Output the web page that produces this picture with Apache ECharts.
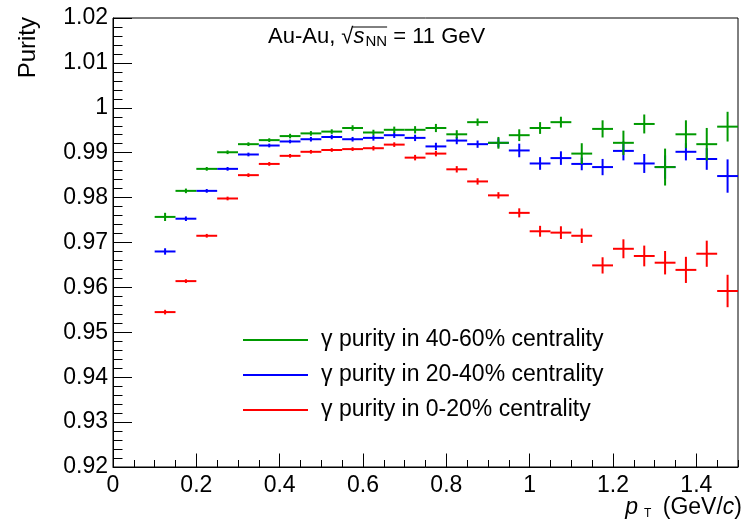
<!DOCTYPE html>
<html>
<head>
<meta charset="utf-8">
<script src="https://cdn.jsdelivr.net/npm/echarts@6/dist/echarts.min.js"></script>
<style>
html,body{margin:0;padding:0;background:#fff;}
#chart{width:747px;height:529px;}
</style>
</head>
<body>
<div id="chart"></div>
<script>
// ---- data ----
const binWidth = 0.05;
const ptCenters = [0.125,0.175,0.225,0.275,0.325,0.375,0.425,0.475,0.525,0.575,0.625,0.675,0.725,0.775,
                   0.825,0.875,0.925,0.975,1.025,1.075,1.125,1.175,1.225,1.275,1.325,1.375,1.425,1.475];
const purity4060 = [0.9757,0.9815,0.9864,0.9901,0.9919,0.9928,0.9937,0.9943,0.9947,0.9955,0.9945,0.9951,0.9951,0.9955,
                    0.9941,0.9968,0.9922,0.9939,0.9955,0.9968,0.9898,0.9953,0.9922,0.9964,0.9868,0.9941,0.9919,0.9958];
const err4060    = [0.0008,0.0004,0.0003,0.0003,0.0003,0.0003,0.0004,0.0004,0.0004,0.0005,0.0005,0.0006,0.0007,0.0008,
                    0.0008,0.0007,0.0012,0.0012,0.0012,0.0011,0.0022,0.0018,0.0026,0.0020,0.0040,0.0030,0.0035,0.0032];
const purity2040 = [0.9680,0.9753,0.9815,0.9864,0.9896,0.9916,0.9925,0.9930,0.9935,0.9930,0.9933,0.9939,0.9933,0.9914,
                    0.9927,0.9919,0.9922,0.9905,0.9876,0.9888,0.9875,0.9868,0.9904,0.9876,0.9868,0.9902,0.9886,0.9848];
const err2040    = [0.0006,0.0004,0.0003,0.0003,0.0003,0.0003,0.0003,0.0004,0.0004,0.0004,0.0005,0.0005,0.0006,0.0007,
                    0.0007,0.0007,0.0009,0.0014,0.0013,0.0014,0.0013,0.0017,0.0020,0.0020,0.0025,0.0018,0.0023,0.0036];
const purity0020 = [0.9545,0.9614,0.9715,0.9798,0.9850,0.9875,0.9893,0.9902,0.9906,0.9908,0.9910,0.9918,0.9889,0.9898,
                    0.9863,0.9836,0.9805,0.9766,0.9725,0.9722,0.9715,0.9649,0.9686,0.9670,0.9655,0.9639,0.9675,0.9592];
const err0020    = [0.0004,0.0003,0.0003,0.0003,0.0003,0.0003,0.0003,0.0003,0.0003,0.0003,0.0004,0.0004,0.0005,0.0005,
                    0.0006,0.0006,0.0006,0.0009,0.0011,0.0013,0.0015,0.0017,0.0020,0.0022,0.0025,0.0028,0.0028,0.0035];
const seriesNames = ['γ purity in 40-60% centrality','γ purity in 20-40% centrality','γ purity in 0-20% centrality'];
const seriesColors = ['#009900','#0000ff','#ff0000'];
const xRange = [0, 1.5];
const yRange = [0.92, 1.02];
const annotation = 'Au-Au, ';
const energyText = ' = 11 GeV';

// ---- chart ----
const FONT = '"Liberation Sans", Arial, Helvetica, sans-serif';
const chart = echarts.init(document.getElementById('chart'), null, {renderer:'canvas'});

function zip(vals, errs){ return ptCenters.map((x,i)=>[x, vals[i], errs[i]]); }

function renderItem(params, api){
  const x = api.value(0), y = api.value(1), ey = api.value(2);
  const half = binWidth/2;
  const pL = api.coord([x-half, y]);
  const pR = api.coord([x+half, y]);
  const pT = api.coord([x, y+ey]);
  const pB = api.coord([x, y-ey]);
  const color = api.visual('color');
  return {type:'group', children:[
    {type:'line', shape:{x1:pL[0],y1:pL[1],x2:pR[0],y2:pR[1]}, style:{stroke:color,lineWidth:2}},
    {type:'line', shape:{x1:pT[0],y1:pT[1]-0.5,x2:pB[0],y2:pB[1]+0.5}, style:{stroke:color,lineWidth:2}}
  ]};
}

function mkSeries(idx, vals, errs){
  return {
    name: seriesNames[idx], type:'custom', renderItem: renderItem,
    xAxisIndex:0, yAxisIndex:0,
    itemStyle:{color: seriesColors[idx]},
    encode:{x:0, y:1},
    data: zip(vals, errs), silent:true, animation:false
  };
}

// measure text for the sqrt overline
const mctx = document.createElement('canvas').getContext('2d');
function tw(txt, size, italic){ mctx.font = (italic?'italic ':'') + size + 'px ' + FONT; return mctx.measureText(txt).width; }
const annX = 268, annY = 37, annSize = 22, annSub = 15;
const olStart = annX + tw(annotation + '√', annSize) - 1;
const olEnd = annX + tw(annotation + '√', annSize) + tw('s', annSize, true) + 1 + tw('NN', annSub);

const option = {
  animation:false,
  backgroundColor:'#fff',
  grid:{left:113, right:9, top:18, bottom:62, show:true, borderColor:'#000', borderWidth:1, backgroundColor:'transparent'},
  legend:{
    data: seriesNames, orient:'vertical', left:243, top:328, padding:0, icon:'rect',
    itemWidth:65, itemHeight:2, itemGap:11, selectedMode:false,
    textStyle:{fontFamily:FONT, fontSize:23, color:'#000', lineHeight:24, padding:[0,0,0,8]}
  },
  xAxis:[{
    type:'value', min:xRange[0], max:xRange[1], interval:0.2, position:'bottom',
    axisLine:{show:true, lineStyle:{color:'#000', width:1}},
    axisTick:{show:true, inside:true, length:13.5, lineStyle:{color:'#000'}},
    axisLabel:{show:true, showMaxLabel:false, margin:7, fontFamily:FONT, fontSize:23, color:'#000',
      formatter:v=>String(+v.toFixed(2))},
    splitLine:{show:false}
  },{
    type:'value', min:xRange[0], max:xRange[1], interval:0.05, position:'bottom',
    axisLine:{show:false}, axisLabel:{show:false}, splitLine:{show:false},
    axisTick:{show:true, inside:true, length:7, lineStyle:{color:'#000'}}
  }],
  yAxis:[{
    type:'value', min:yRange[0], max:yRange[1], interval:0.01, position:'left',
    axisLine:{show:true, lineStyle:{color:'#000', width:1}},
    axisTick:{show:true, inside:true, length:19, lineStyle:{color:'#000'}},
    minorTick:{show:true, splitNumber:5, length:9.5, lineStyle:{color:'#000'}},
    axisLabel:{show:true, margin:5, fontFamily:FONT, fontSize:23, color:'#000',
      formatter:v=>String(+v.toFixed(2))},
    splitLine:{show:false}
  }],
  graphic:[
    {type:'text', x:28, y:17, rotation:Math.PI/2, silent:true,
     style:{text:'Purity', fontFamily:FONT, fontSize:24, fill:'#000', align:'right', verticalAlign:'middle'}},
    {type:'text', x:742, y:508, silent:true,
     style:{text:'{i|p}{sub|T} (GeV/{i|c})', fontFamily:FONT, fontSize:23, fill:'#000', align:'right', verticalAlign:'middle',
       rich:{i:{fontStyle:'italic', fontFamily:FONT, fontSize:23}, sub:{fontFamily:FONT, fontSize:12, padding:[12,5,0,6]}}}},
    {type:'text', x:annX, y:annY, silent:true,
     style:{text: annotation + '√{s|s}{sub|NN}' + energyText, fontFamily:FONT, fontSize:annSize, fill:'#000', align:'left', verticalAlign:'middle',
       rich:{s:{fontStyle:'italic', fontFamily:FONT, fontSize:annSize}, sub:{fontFamily:FONT, fontSize:annSub, padding:[10,0,0,1]}}}},
    {type:'line', silent:true, shape:{x1:olStart, y1:27, x2:olEnd, y2:27}, style:{stroke:'#000', lineWidth:1}}
  ],
  series:[
    mkSeries(2, purity0020, err0020),
    mkSeries(1, purity2040, err2040),
    mkSeries(0, purity4060, err4060)
  ]
};
chart.setOption(option);
</script>
</body>
</html>
